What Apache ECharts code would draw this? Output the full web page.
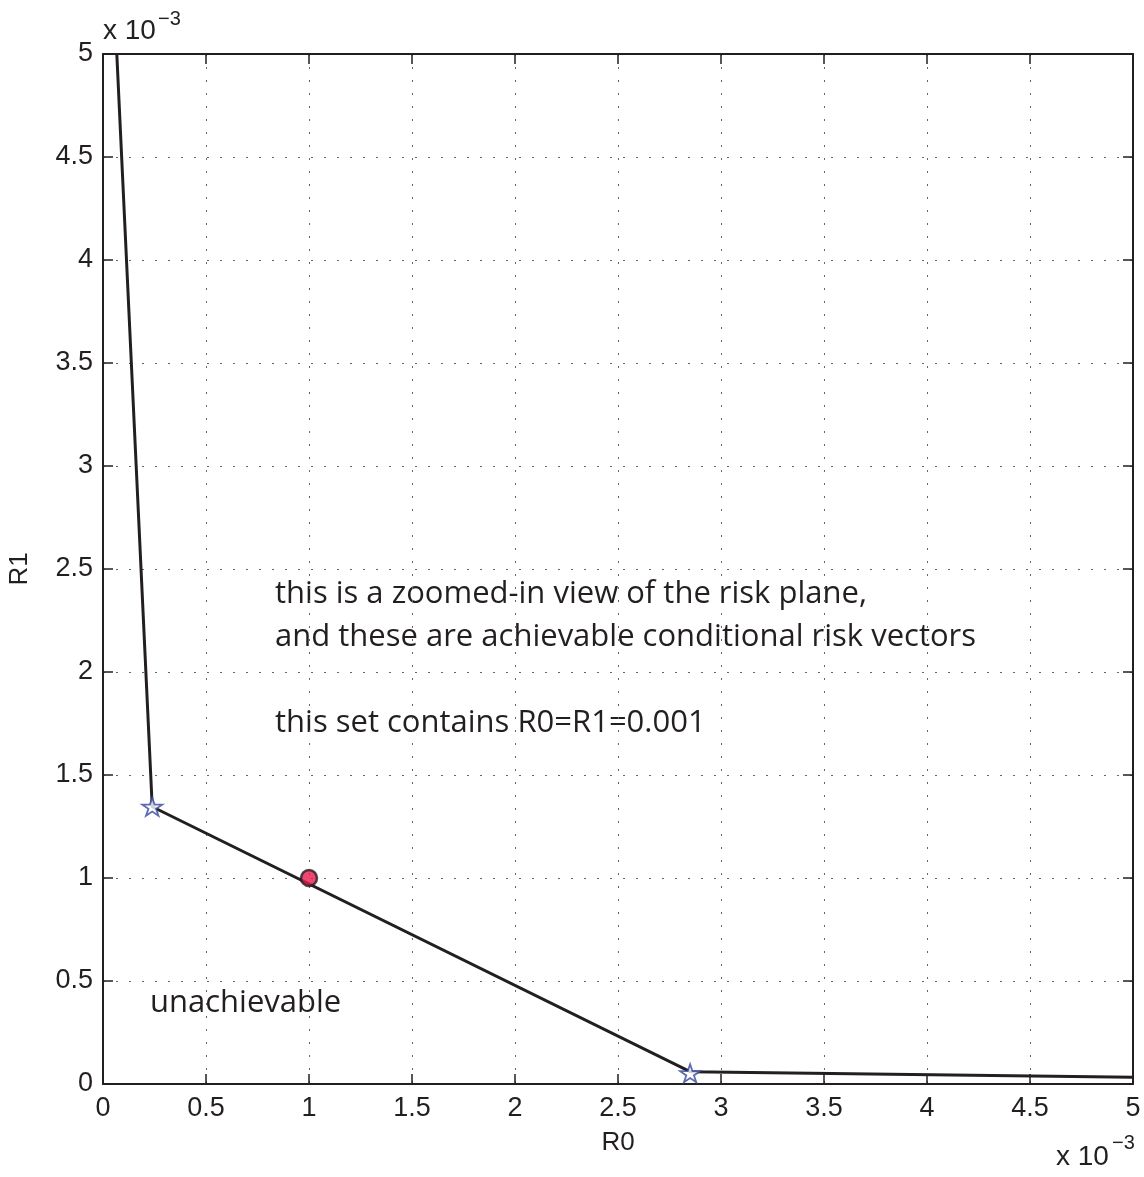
<!DOCTYPE html>
<html>
<head>
<meta charset="utf-8">
<script src="https://cdn.jsdelivr.net/npm/echarts@6/dist/echarts.min.js"></script>
<style>
  html, body { margin: 0; padding: 0; background: #fff; }
  #chart { width: 1144px; height: 1177px; }
</style>
</head>
<body>
<div id="chart"></div>
<script>
// values are in units of 1e-3
const xTicks = [0, 0.5, 1, 1.5, 2, 2.5, 3, 3.5, 4, 4.5, 5];
const yTicks = [0, 0.5, 1, 1.5, 2, 2.5, 3, 3.5, 4, 4.5, 5];
const boundaryR0 = [0.067, 0.239, 2.85, 5.0];
const boundaryR1 = [5.0, 1.346, 0.06, 0.033];
const vertexR0 = [0.239, 2.85];
const vertexR1 = [1.346, 0.052];
const pointR0 = [1.0];
const pointR1 = [1.0];
const notes = [
  'this is a zoomed-in view of the risk plane,',
  'and these are achievable conditional risk vectors',
  '',
  'this set contains R0=R1=0.001'
];

const ink = '#231f20';
const star = 'path://M0,-1 L0.2245,-0.309 L0.951,-0.309 L0.363,0.118 L0.588,0.809 L0,0.382 L-0.588,0.809 L-0.363,0.118 L-0.951,-0.309 L-0.2245,-0.309 Z';
const zip = (a, b) => a.map((v, i) => [v, b[i]]);
const tickText = v => String(+v.toFixed(1));

const grid = {left: 103, top: 54, width: 1030, height: 1030, containLabel: false, outerBoundsMode: 'none'};
const helv = 'Liberation Sans, Arial, sans-serif';
const labelFont = {fontFamily: helv, fontSize: 27, color: ink};
const nameFont = {fontFamily: helv, fontSize: 26, color: ink};
const gridDots = {show: true, lineStyle: {color: '#666', width: 1, type: [2, 11]}};

const baseAxis = {
  type: 'value', min: 0, max: 5, interval: 0.5,
  axisLine: {show: true, onZero: false, lineStyle: {color: ink, width: 2}},
  axisTick: {show: true, inside: true, length: 10, lineStyle: {color: ink, width: 1.5}}
};

const chart = echarts.init(document.getElementById('chart'));
chart.setOption({
  animation: false,
  backgroundColor: '#fff',
  grid: grid,
  xAxis: [
    Object.assign({}, baseAxis, {
      position: 'bottom',
      name: 'R0', nameLocation: 'middle', nameGap: 46,
      nameTextStyle: nameFont,
      axisLabel: Object.assign({margin: 11, formatter: tickText}, labelFont),
      splitLine: gridDots
    }),
    Object.assign({}, baseAxis, {
      position: 'top',
      axisLabel: {show: false}, splitLine: {show: false}
    })
  ],
  yAxis: [
    Object.assign({}, baseAxis, {
      position: 'left',
      name: 'R1', nameLocation: 'middle', nameGap: 70, nameRotate: 90,
      nameTextStyle: nameFont,
      axisLabel: Object.assign({margin: 10, formatter: tickText}, labelFont),
      splitLine: gridDots
    }),
    Object.assign({}, baseAxis, {
      position: 'right',
      axisLabel: {show: false}, splitLine: {show: false}
    })
  ],
  series: [
    {
      type: 'line', data: zip(boundaryR0, boundaryR1),
      symbol: 'none', clip: true,
      lineStyle: {color: ink, width: 3}, z: 3
    },
    {
      type: 'scatter', data: zip(vertexR0, vertexR1),
      symbol: star, symbolSize: [20, 19], symbolKeepAspect: true,
      itemStyle: {color: '#fff', borderColor: '#34479e', borderWidth: 1.8}, z: 4
    },
    {
      type: 'scatter', data: zip(pointR0, pointR1),
      symbol: 'circle', symbolSize: 16,
      itemStyle: {color: '#e8194f', borderColor: ink, borderWidth: 2.5}, z: 5
    }
  ],
  graphic: [
    {
      type: 'text', left: 275, top: 573,
      style: {text: notes.join('\n'), font: '31px "Open Sans", sans-serif', fill: ink, lineHeight: 43}
    },
    {
      type: 'text', left: 150, top: 988,
      style: {text: 'unachievable', font: '31px "Open Sans", sans-serif', fill: ink}
    },
    {type: 'text', left: 103, top: 17, style: {text: 'x 10', font: '28px ' + helv, fill: ink}},
    {type: 'text', left: 158, top: 9, style: {text: '−3', font: '20px ' + helv, fill: ink}},
    {type: 'text', left: 1056, top: 1143, style: {text: 'x 10', font: '28px ' + helv, fill: ink}},
    {type: 'text', left: 1112, top: 1133, style: {text: '−3', font: '20px ' + helv, fill: ink}}
  ]
});
</script>
</body>
</html>
